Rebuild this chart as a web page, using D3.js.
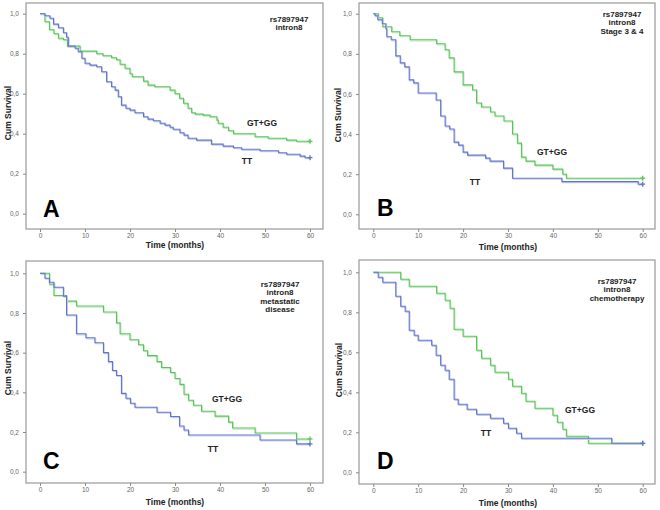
<!DOCTYPE html>
<html><head><meta charset="utf-8">
<script src="https://cdn.jsdelivr.net/npm/d3@7"></script>
<style>body{margin:0;background:#fff}svg{display:block;font-family:"Liberation Sans",Arial,sans-serif}</style>
</head><body><svg id="c" width="660" height="510"></svg>
<script>
// ---- data ----
const xTicks = [0,10,20,30,40,50,60];
const yTicks = [0,0.2,0.4,0.6,0.8,1.0];
const yTickLabels = ["0,0","0,2","0,4","0,6","0,8","1,0"];
const groupNames = ["GT+GG","TT"];

// Panel A
const aGreenT = [1.1,2.1,3.1,4.1,5.2,6.1,8.9,12.6,14,15.9,17,17.8,18.9,20,20.5,23,24,25.5,28.9,30,31,31.9,32.9,33.7,34.5,36.3,37.8,39.3,39.6,40.7,41.9,43,47.8,50.7,54.8,57];
const aGreenS = [0.96,0.92,0.90,0.877,0.87,0.838,0.813,0.80,0.79,0.78,0.77,0.747,0.727,0.70,0.685,0.663,0.643,0.635,0.618,0.60,0.577,0.552,0.527,0.505,0.498,0.493,0.485,0.468,0.452,0.432,0.415,0.40,0.385,0.377,0.368,0.362];
const aBlueT = [1.1,2.2,3,4.1,5.2,5.9,6.3,7.8,8.5,9.3,10,11.1,12.6,13.7,14.8,15.9,16.7,17.4,18.1,19.1,20,21.1,23,24,25.2,26.7,27.8,28.9,29.6,31.1,32,32.9,34.8,38.1,40.7,43,44.8,48.9,53,54.8,57.8,58.9];
const aBlueS = [0.99,0.977,0.948,0.93,0.905,0.882,0.838,0.827,0.81,0.777,0.752,0.743,0.735,0.71,0.66,0.635,0.618,0.585,0.543,0.527,0.518,0.505,0.485,0.473,0.465,0.452,0.443,0.432,0.422,0.405,0.393,0.377,0.368,0.348,0.338,0.33,0.322,0.315,0.305,0.297,0.288,0.28];

// Panel B
const bGreenT = [1.1,2.1,4.1,5.9,8.2,14.1,16,16.9,18,20,22.1,23,24.1,26.1,27.1,29.1,31,32.1,33,34,36,40,42.2,43];
const bGreenS = [0.98,0.935,0.91,0.89,0.87,0.85,0.82,0.78,0.71,0.645,0.62,0.555,0.535,0.51,0.49,0.465,0.40,0.355,0.285,0.265,0.245,0.225,0.20,0.18];
const bBlueT = [0.4,1,2,2.8,3,4,5,6,7,8,9,10,14,15,16,17,18,19,20,21,25,26,29,31,42,59];
const bBlueS = [0.99,0.97,0.95,0.925,0.885,0.87,0.79,0.755,0.735,0.67,0.655,0.605,0.57,0.49,0.44,0.425,0.36,0.345,0.31,0.295,0.28,0.265,0.23,0.18,0.163,0.15];

// Panel C
const cGreenT = [2.1,3.1,5.9,8.1,14.1,17,17.8,20,21.9,23,23.9,26,27,29,30,31.1,32,33,34.1,35.9,38.9,41.9,42.8,47.8,57];
const cGreenS = [0.945,0.888,0.86,0.835,0.805,0.75,0.695,0.665,0.64,0.61,0.585,0.555,0.525,0.50,0.47,0.44,0.39,0.36,0.335,0.305,0.28,0.25,0.22,0.195,0.165];
const cBlueT = [1.1,2.1,3.1,5.2,5.9,8.1,10.2,12.2,14.1,15.2,16.1,17,18.1,19.1,20.1,21.1,26,29,31,32,33,48.9,57];
const cBlueS = [0.975,0.955,0.93,0.885,0.79,0.695,0.675,0.65,0.60,0.555,0.51,0.485,0.395,0.37,0.345,0.325,0.30,0.278,0.23,0.21,0.185,0.16,0.14];

// Panel D
const dGreenT = [6.1,8,14.1,16,17.1,18,20,23,24.1,26.1,27.1,30.1,31,33,34,36,40,41,42.2,43,47.9];
const dGreenS = [0.965,0.93,0.895,0.86,0.82,0.715,0.68,0.61,0.57,0.535,0.50,0.465,0.43,0.395,0.355,0.32,0.285,0.25,0.215,0.18,0.145];
const dBlueT = [1.1,2.1,5,6.1,7.1,8,9.1,10,13,14,15,16,16.9,18,18.9,20.9,23,26.1,29,30.1,31.9,33,53.1];
const dBlueS = [0.975,0.95,0.88,0.83,0.805,0.71,0.685,0.66,0.635,0.585,0.535,0.51,0.465,0.365,0.34,0.315,0.29,0.27,0.245,0.22,0.195,0.17,0.145];

const panelLetters = ["A","B","C","D"];
const panelNotes = [["rs7897947","intron8"],["rs7897947","intron8","Stage 3 & 4"],["rs7897947","intron8","metastatic","disease"],["rs7897947","intron8","chemotherapy"]];

// ---- layout ----
const layouts = [
  {fl:26,fr:323,ft:3,fb:229,x0:40,x1:310,y1:13.7,y0:213.7, yt:[5,113], xt:[175,245], letter:[43,217], note:[289,22], gLab:[262,126], tLab:[247,164]},
  {fl:359,fr:655,ft:3,fb:229,x0:373.3,x1:642.7,y1:13.7,y0:214.3, yt:[335,115], xt:[508,247], letter:[377,216], note:[622,17], gLab:[552,155], tLab:[475,185]},
  {fl:26,fr:323,ft:261,fb:483,x0:40,x1:310,y1:273.3,y0:471.7, yt:[5,368], xt:[175,502], letter:[43,469], note:[280,287], gLab:[227,402], tLab:[213,452]},
  {fl:359,fr:655,ft:260,fb:484,x0:373.3,x1:642.7,y1:272.3,y0:472.3, yt:[336,370], xt:[508,503], letter:[377,469], note:[617,284], gLab:[580,413], tLab:[486,436]}
];
const series = [
  [[aGreenT,aGreenS],[aBlueT,aBlueS]],
  [[bGreenT,bGreenS],[bBlueT,bBlueS]],
  [[cGreenT,cGreenS],[cBlueT,cBlueS]],
  [[dGreenT,dGreenS],[dBlueT,dBlueS]]
];
const colors = ["#5cc25c","#6275c9"];
const shadows = ["#c2ecc2","#c6cff0"];

const svg = d3.select("#c");
layouts.forEach((L,i)=>{
  const g = svg.append("g");
  const x = d3.scaleLinear().domain([0,60]).range([L.x0,L.x1]);
  const y = d3.scaleLinear().domain([0,1]).range([L.y0,L.y1]);
  // frame
  g.append("rect").attr("x",L.fl).attr("y",L.ft).attr("width",L.fr-L.fl).attr("height",L.fb-L.ft)
    .attr("fill","none").attr("stroke","#a0a0a0").attr("stroke-width",1.3);
  // y axis
  const ya = g.append("g").attr("transform",`translate(${L.fl},0)`)
    .call(d3.axisLeft(y).tickValues(yTicks).tickSize(3).tickFormat((d,k)=>yTickLabels[k]));
  ya.select(".domain").remove();
  ya.selectAll("line").attr("stroke","#888");
  ya.selectAll("text").attr("font-size",6.5).attr("fill","#666").attr("dx",-1);
  // x axis
  const xa = g.append("g").attr("transform",`translate(0,${L.fb})`)
    .call(d3.axisBottom(x).tickValues(xTicks).tickSize(3));
  xa.select(".domain").remove();
  xa.selectAll("line").attr("stroke","#888");
  xa.selectAll("text").attr("font-size",6.5).attr("fill","#666").attr("dy","0.4em");
  // titles
  g.append("text").attr("transform",`translate(${L.yt[0]},${L.yt[1]}) rotate(-90)`)
    .attr("text-anchor","middle").attr("dy","0.75em").attr("font-size",8.5).attr("font-weight","bold").attr("fill","#222").text("Cum Survival");
  g.append("text").attr("x",L.xt[0]).attr("y",L.xt[1]).attr("text-anchor","middle").attr("dy","0.35em")
    .attr("font-size",8.5).attr("font-weight","bold").attr("fill","#222").text("Time (months)");
  // curves
  series[i].forEach((s,k)=>{
    const pts = [[0,1]].concat(s[0].map((t,j)=>[t,s[1][j]]));
    pts.push([60,s[1][s[1].length-1]]);
    const line = d3.line().x(d=>x(d[0])).y(d=>y(d[1])).curve(d3.curveStepAfter);
    g.append("path").datum(pts).attr("d",line).attr("fill","none").attr("stroke",shadows[k])
      .attr("stroke-width",1.2).attr("transform","translate(0.8,1)");
    g.append("path").datum(pts).attr("d",line).attr("fill","none").attr("stroke",colors[k]).attr("stroke-width",1.1);
    const last = pts[pts.length-1];
    const cx = x(last[0]), cy = y(last[1]);
    g.append("path").attr("d",`M${cx-2.5},${cy}H${cx+2.5}M${cx},${cy-2.5}V${cy+2.5}`).attr("stroke",colors[k]).attr("stroke-width",1.3);
  });
  // group labels
  g.append("text").attr("x",L.gLab[0]).attr("y",L.gLab[1]).attr("text-anchor","middle").attr("font-size",8.5).attr("font-weight","bold").attr("fill","#222").text(groupNames[0]);
  g.append("text").attr("x",L.tLab[0]).attr("y",L.tLab[1]).attr("text-anchor","middle").attr("font-size",8.5).attr("font-weight","bold").attr("fill","#222").text(groupNames[1]);
  // note
  panelNotes[i].forEach((line,k)=>{
    g.append("text").attr("x",L.note[0]).attr("y",L.note[1]+k*8.3).attr("text-anchor","middle").attr("font-size",8).attr("font-weight","bold").attr("fill","#222").text(line);
  });
  // letter
  g.append("text").attr("x",L.letter[0]).attr("y",L.letter[1]).attr("font-size",23).attr("font-weight","bold").attr("fill","#000").text(panelLetters[i]);
});
</script></body></html>
